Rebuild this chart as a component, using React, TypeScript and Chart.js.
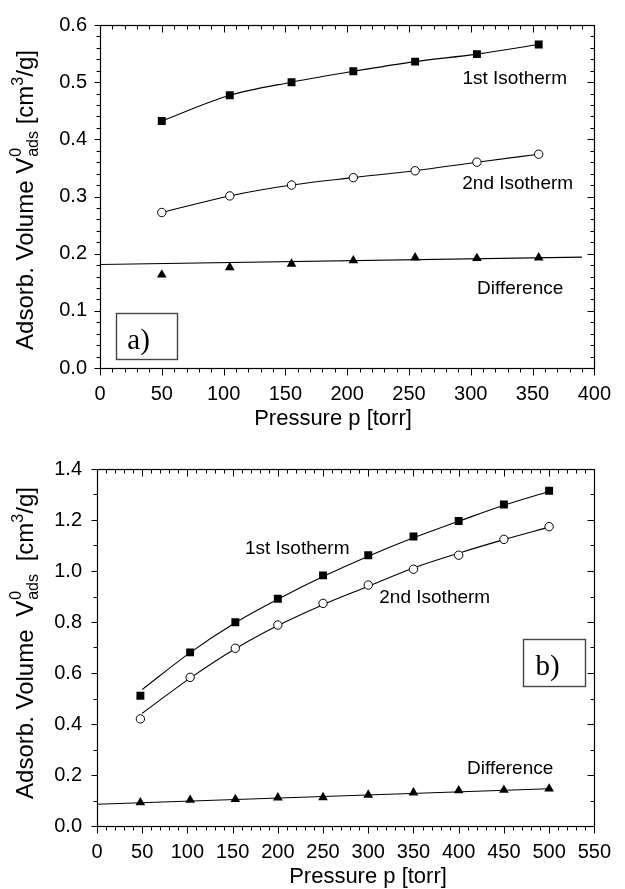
import React, { useEffect, useRef } from "react";
import { Chart, registerables } from "chart.js";

Chart.register(...registerables);

const SANS = "'Liberation Sans', Arial, Helvetica, sans-serif";
const SERIF = "'Liberation Serif', 'Times New Roman', serif";

// ---------------- Panel a) ----------------
const pressureA = [50, 105, 155, 205, 255, 305, 355];
const isotherm1A = [0.432, 0.477, 0.5, 0.519, 0.536, 0.549, 0.566];
const isotherm2A = [0.272, 0.301, 0.32, 0.333, 0.345, 0.36, 0.374];
const differenceA = [0.163, 0.176, 0.182, 0.188, 0.193, 0.192, 0.193];
const diffFitPressureA = [0, 390];
const diffFitA = [0.181, 0.194];
const xTicksA = [0, 50, 100, 150, 200, 250, 300, 350, 400];
const yTicksA = [0, 0.1, 0.2, 0.3, 0.4, 0.5, 0.6];

// ---------------- Panel b) ----------------
const pressureB = [48, 103, 153, 200, 250, 300, 350, 400, 450, 500];
const isotherm1B = [0.511, 0.681, 0.799, 0.891, 0.983, 1.062, 1.135, 1.196, 1.261, 1.315];
const isotherm2B = [0.42, 0.583, 0.697, 0.788, 0.873, 0.945, 1.007, 1.062, 1.124, 1.174];
const differenceB = [0.092, 0.102, 0.105, 0.111, 0.112, 0.122, 0.131, 0.139, 0.141, 0.146];
const fitPressureB = [50, 103, 153, 200, 250, 300, 350, 400, 450, 500];
const isotherm1FitB = [0.535, 0.68, 0.797, 0.889, 0.978, 1.058, 1.13, 1.195, 1.258, 1.312];
const isotherm2FitB = [0.442, 0.58, 0.695, 0.786, 0.868, 0.94, 1.012, 1.07, 1.123, 1.172];
const diffFitPressureB = [0, 500];
const diffFitB = [0.085, 0.146];
const xTicksB = [0, 50, 100, 150, 200, 250, 300, 350, 400, 450, 500, 550];
const yTicksB = [0, 0.2, 0.4, 0.6, 0.8, 1.0, 1.2, 1.4];

const pts = (xs: number[], ys: number[]) => xs.map((x, i) => ({ x, y: ys[i] }));

type Decor = {
  xMinor: number;
  xMajor: number;
  yMinor: number;
  yMajor: number;
  labels: { text: string; x: number; y: number }[];
  box: { x0: number; x1: number; y0: number; y1: number; text: string; tx: number; ty: number };
  yTitle: { cx: number; cy: number; base: number; gap: number; size: number; sub: number };
  xTitle: { cx: number; base: number };
};

function drawYTitle(ctx: CanvasRenderingContext2D, t: Decor["yTitle"]) {
  const main = `${t.size}px ${SANS}`;
  const small = `${t.sub}px ${SANS}`;
  ctx.save();
  ctx.font = main;
  const w1 = ctx.measureText("Adsorb. Volume").width;
  const wSp = ctx.measureText(" ").width;
  const wV = ctx.measureText("V").width;
  const wCm = ctx.measureText("[cm").width;
  const wG = ctx.measureText("/g]").width;
  ctx.font = small;
  const wAds = ctx.measureText("ads").width;
  const w0 = ctx.measureText("0").width;
  const w3 = ctx.measureText("3").width;
  const total = w1 + wSp + t.gap + wV + 1 + Math.max(wAds, w0) + wSp + t.gap + wCm + w3 + wG;
  ctx.translate(t.base, t.cy);
  ctx.rotate(-Math.PI / 2);
  ctx.fillStyle = "#000";
  ctx.textBaseline = "alphabetic";
  ctx.textAlign = "left";
  let x = -total / 2;
  ctx.font = main;
  ctx.fillText("Adsorb. Volume", x, 0);
  x += w1 + wSp + t.gap;
  ctx.fillText("V", x, 0);
  x += wV + 1;
  ctx.font = small;
  ctx.fillText("0", x, -t.size * 0.5);
  ctx.fillText("ads", x, t.size * 0.22);
  x += Math.max(wAds, w0) + wSp + t.gap;
  ctx.font = main;
  ctx.fillText("[cm", x, 0);
  x += wCm;
  ctx.font = small;
  ctx.fillText("3", x, -t.size * 0.42);
  x += w3;
  ctx.font = main;
  ctx.fillText("/g]", x, 0);
  ctx.restore();
}

function decorPlugin(d: Decor) {
  return {
    id: "decor",
    afterDraw(chart: any) {
      const { ctx, chartArea: a, scales } = chart;
      const xs = scales.x;
      const ys = scales.y;
      const L = Math.round(a.left) + 0.5;
      const R = Math.round(a.right) + 0.5;
      const T = Math.round(a.top) + 0.5;
      const B = Math.round(a.bottom) + 0.5;
      ctx.save();
      ctx.strokeStyle = "#000";
      ctx.lineWidth = 1.2;
      ctx.strokeRect(L, T, R - L, B - T);
      ctx.lineWidth = 1;
      const seg = (x1: number, y1: number, x2: number, y2: number) => {
        ctx.beginPath();
        ctx.moveTo(x1, y1);
        ctx.lineTo(x2, y2);
        ctx.stroke();
      };
      const nx = Math.round((xs.max - xs.min) / d.xMinor);
      for (let i = 0; i <= nx; i++) {
        const v = xs.min + i * d.xMinor;
        const major = Math.abs(v / d.xMajor - Math.round(v / d.xMajor)) < 1e-6;
        const px = Math.round(xs.getPixelForValue(v)) + 0.5;
        const len = major ? 7 : 4;
        seg(px, B, px, B + len);
        seg(px, T, px, T + len);
      }
      const ny = Math.round((ys.max - ys.min) / d.yMinor);
      for (let i = 0; i <= ny; i++) {
        const v = ys.min + i * d.yMinor;
        const major = Math.abs(v / d.yMajor - Math.round(v / d.yMajor)) < 1e-6;
        const py = Math.round(ys.getPixelForValue(v)) + 0.5;
        seg(L, py, L - (major ? 6 : 4), py);
        seg(R, py, R - (major ? 7 : 4), py);
      }
      // annotation labels
      ctx.fillStyle = "#000";
      ctx.font = `19px ${SANS}`;
      ctx.textAlign = "center";
      ctx.textBaseline = "middle";
      for (const lb of d.labels) {
        ctx.fillText(lb.text, xs.getPixelForValue(lb.x), ys.getPixelForValue(lb.y));
      }
      // panel box
      const bx0 = xs.getPixelForValue(d.box.x0);
      const bx1 = xs.getPixelForValue(d.box.x1);
      const by0 = ys.getPixelForValue(d.box.y0);
      const by1 = ys.getPixelForValue(d.box.y1);
      ctx.strokeStyle = "#444";
      ctx.lineWidth = 1.4;
      ctx.strokeRect(Math.round(bx0) + 0.5, Math.round(by1) + 0.5, Math.round(bx1 - bx0), Math.round(by0 - by1));
      ctx.font = `29px ${SERIF}`;
      ctx.textAlign = "left";
      ctx.textBaseline = "alphabetic";
      ctx.fillText(d.box.text, xs.getPixelForValue(d.box.tx), ys.getPixelForValue(d.box.ty));
      // x title
      ctx.font = `22px ${SANS}`;
      ctx.textAlign = "center";
      ctx.fillText("Pressure p [torr]", d.xTitle.cx, d.xTitle.base);
      ctx.restore();
      drawYTitle(ctx, d.yTitle);
    },
  };
}

function buildConfig(opts: {
  datasets: any[];
  xMax: number;
  yMax: number;
  xTicks: number[];
  yTicks: number[];
  yWidth: number;
  xHeight: number;
  padTop: number;
  padRight: number;
  yPad: number;
  xPad: number;
  decor: Decor;
}) {
  return {
    type: "scatter",
    data: { datasets: opts.datasets },
    options: {
      animation: false,
      responsive: false,
      devicePixelRatio: 1,
      events: [],
      layout: { padding: { top: opts.padTop, right: opts.padRight, left: 0, bottom: 0 } },
      plugins: { legend: { display: false }, tooltip: { enabled: false }, title: { display: false } },
      scales: {
        x: {
          type: "linear",
          min: 0,
          max: opts.xMax,
          grid: { display: false, drawTicks: false },
          border: { display: false },
          afterBuildTicks: (s: any) => {
            s.ticks = opts.xTicks.map((v) => ({ value: v }));
          },
          afterFit: (s: any) => {
            s.height = opts.xHeight;
          },
          ticks: {
            autoSkip: false,
            maxRotation: 0,
            minRotation: 0,
            padding: opts.xPad,
            color: "#000",
            font: { family: SANS, size: 20 },
            callback: (v: any) => String(v),
          },
        },
        y: {
          type: "linear",
          min: 0,
          max: opts.yMax,
          grid: { display: false, drawTicks: false },
          border: { display: false },
          afterBuildTicks: (s: any) => {
            s.ticks = opts.yTicks.map((v) => ({ value: v }));
          },
          afterFit: (s: any) => {
            s.width = opts.yWidth;
          },
          ticks: {
            autoSkip: false,
            padding: opts.yPad,
            color: "#000",
            font: { family: SANS, size: 20 },
            callback: (v: any) => Number(v).toFixed(1),
          },
        },
      },
    },
    plugins: [decorPlugin(opts.decor)],
  };
}

const square = { pointStyle: "rect", pointRadius: 5.6, pointBackgroundColor: "#000", pointBorderColor: "#000", pointBorderWidth: 0 };
const circle = { pointStyle: "circle", pointRadius: 4.2, pointBackgroundColor: "#fff", pointBorderColor: "#000", pointBorderWidth: 1 };
const triangle = { pointStyle: "triangle", pointRadius: 5.6, pointBackgroundColor: "#000", pointBorderColor: "#000", pointBorderWidth: 0 };
const fitLine = { showLine: true, pointRadius: 0, borderColor: "#000", borderWidth: 1.1, cubicInterpolationMode: "monotone", order: 2 };

function configA() {
  return buildConfig({
    datasets: [
      { data: pts(pressureA, isotherm1A), ...square, showLine: true, borderColor: "#000", borderWidth: 1.1, cubicInterpolationMode: "monotone", order: 1 },
      { data: pts(pressureA, isotherm2A), ...circle, showLine: true, borderColor: "#000", borderWidth: 1.1, cubicInterpolationMode: "monotone", order: 1 },
      { data: pts(pressureA, differenceA), ...triangle, showLine: false, order: 1 },
      { data: pts(diffFitPressureA, diffFitA), ...fitLine },
    ],
    xMax: 400,
    yMax: 0.6,
    xTicks: xTicksA,
    yTicks: yTicksA,
    yWidth: 100,
    xHeight: 72,
    padTop: 16,
    padRight: 19,
    yPad: 13,
    xPad: 14,
    decor: {
      xMinor: 10,
      xMajor: 50,
      yMinor: 0.02,
      yMajor: 0.1,
      labels: [
        { text: "1st Isotherm", x: 335.6, y: 0.506 },
        { text: "2nd Isotherm", x: 338, y: 0.322 },
        { text: "Difference", x: 340, y: 0.138 },
      ],
      box: { x0: 12.6, x1: 61.7, y0: 0.017, y1: 0.097, text: "a)", tx: 22.1, ty: 0.034 },
      yTitle: { cx: 25, cy: 200, base: 33, gap: 0, size: 24, sub: 16 },
      xTitle: { cx: 333, base: 425 },
    },
  });
}

function configB() {
  return buildConfig({
    datasets: [
      { data: pts(pressureB, isotherm1B), ...square, showLine: false, order: 1 },
      { data: pts(pressureB, isotherm2B), ...circle, showLine: false, order: 1 },
      { data: pts(pressureB, differenceB), ...triangle, showLine: false, order: 1 },
      { data: pts(fitPressureB, isotherm1FitB), ...fitLine },
      { data: pts(fitPressureB, isotherm2FitB), ...fitLine },
      { data: pts(diffFitPressureB, diffFitB), ...fitLine },
    ],
    xMax: 550,
    yMax: 1.4,
    xTicks: xTicksB,
    yTicks: yTicksB,
    yWidth: 97,
    xHeight: 63,
    padTop: 29,
    padRight: 20,
    yPad: 15,
    xPad: 14,
    decor: {
      xMinor: 10,
      xMajor: 50,
      yMinor: 0.1,
      yMajor: 0.2,
      labels: [
        { text: "1st Isotherm", x: 221.4, y: 1.086 },
        { text: "2nd Isotherm", x: 373.5, y: 0.894 },
        { text: "Difference", x: 456.9, y: 0.2235 },
      ],
      box: { x0: 471, x1: 539.2, y0: 0.549, y1: 0.733, text: "b)", tx: 485, ty: 0.592 },
      yTitle: { cx: 25, cy: 203, base: 33, gap: 6, size: 24, sub: 16 },
      xTitle: { cx: 368, base: 443 },
    },
  });
}

function Panel({ make, top, height }: { make: () => any; top: number; height: number }) {
  const ref = useRef<HTMLCanvasElement>(null);
  useEffect(() => {
    const chart = new Chart(ref.current as HTMLCanvasElement, make());
    return () => chart.destroy();
  }, []);
  return (
    <canvas
      ref={ref}
      width={625}
      height={height}
      style={{ position: "absolute", left: 0, top, width: 625, height, display: "block" }}
    />
  );
}

export default function App() {
  return (
    <div style={{ position: "absolute", left: 0, top: 0, width: 625, height: 889, background: "#fff" }}>
      <Panel make={configA} top={0} height={440} />
      <Panel make={configB} top={440} height={449} />
    </div>
  );
}
